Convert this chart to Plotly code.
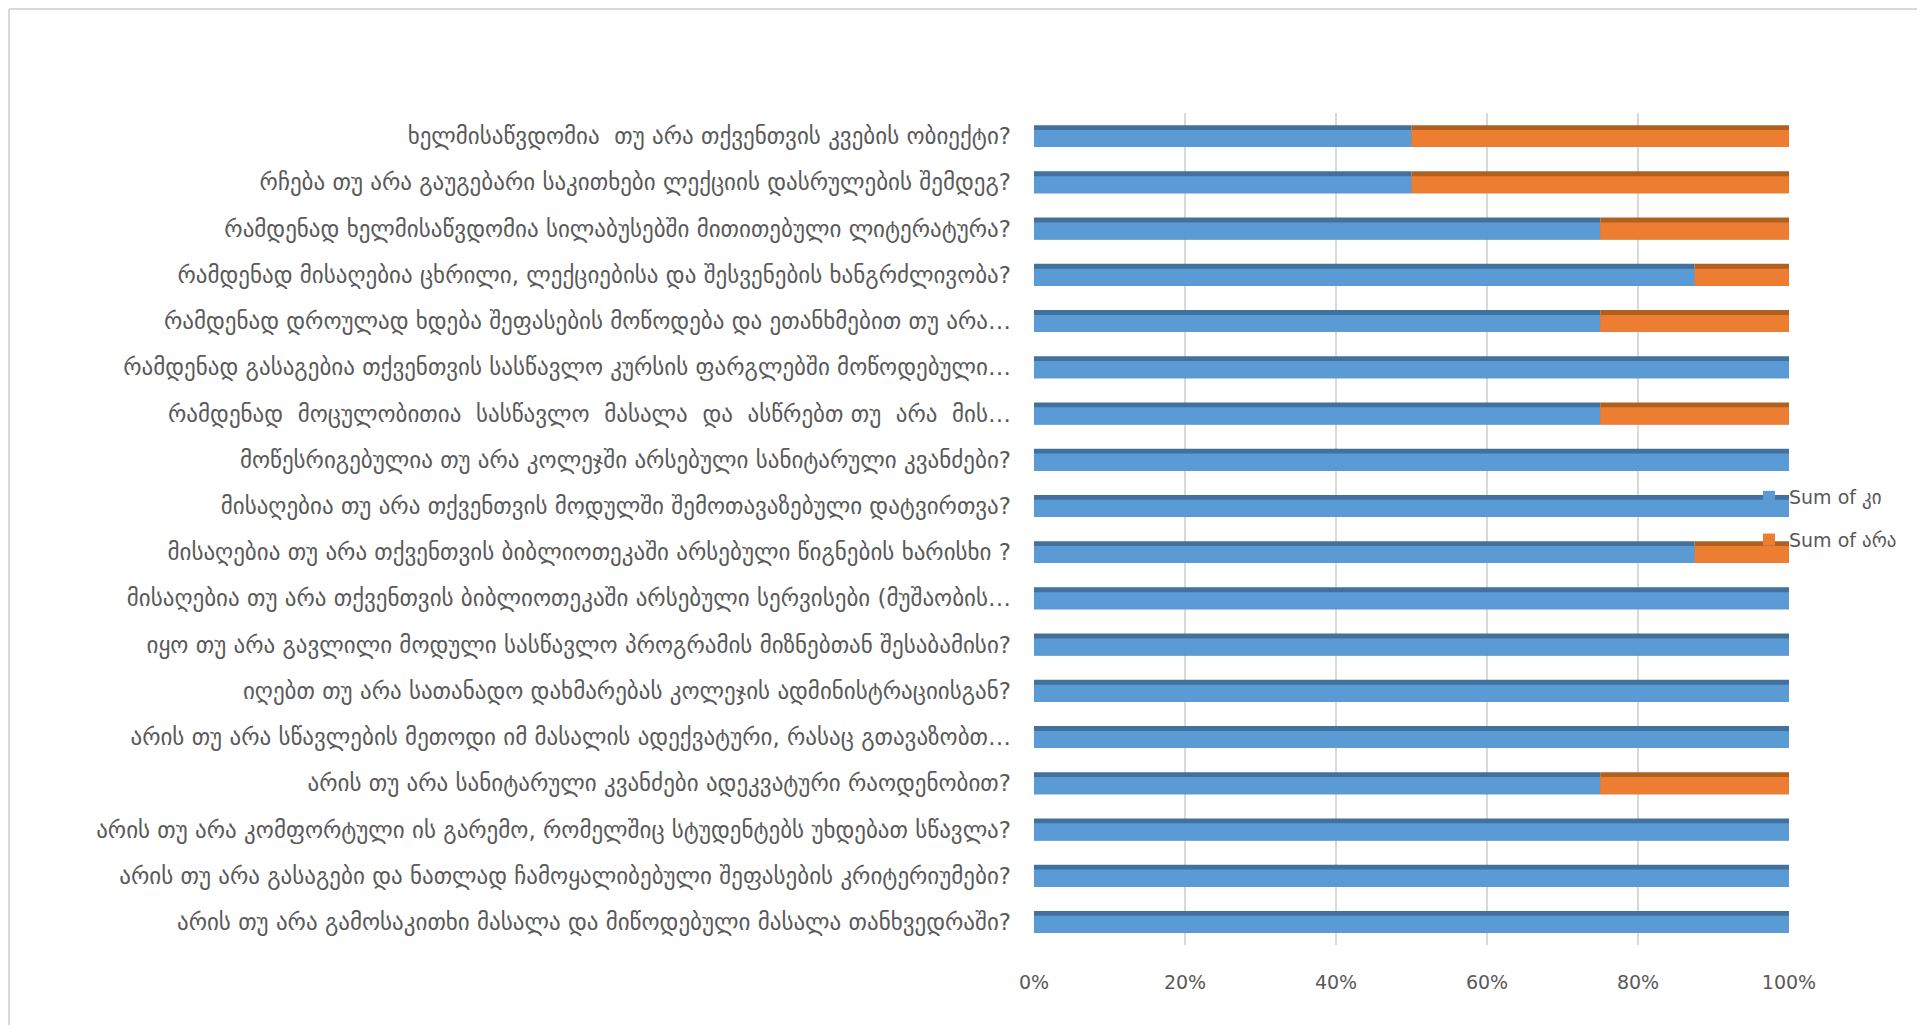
import plotly.graph_objects as go

# Categories, bottom to top
categories = [
    "არის თუ არა გამოსაკითხი მასალა და მიწოდებული მასალა თანხვედრაში?",
    "არის თუ არა გასაგები და ნათლად ჩამოყალიბებული შეფასების კრიტერიუმები?",
    "არის თუ არა კომფორტული ის გარემო, რომელშიც სტუდენტებს უხდებათ სწავლა?",
    "არის თუ არა სანიტარული კვანძები ადეკვატური რაოდენობით?",
    "არის თუ არა სწავლების მეთოდი იმ მასალის ადექვატური, რასაც გთავაზობთ…",
    "იღებთ თუ არა სათანადო დახმარებას კოლეჯის ადმინისტრაციისგან?",
    "იყო თუ არა გავლილი მოდული სასწავლო პროგრამის მიზნებთან შესაბამისი?",
    "მისაღებია თუ არა თქვენთვის ბიბლიოთეკაში არსებული სერვისები (მუშაობის…",
    "მისაღებია თუ არა თქვენთვის ბიბლიოთეკაში არსებული წიგნების ხარისხი ?",
    "მისაღებია თუ არა თქვენთვის მოდულში შემოთავაზებული დატვირთვა?",
    "მოწესრიგებულია თუ არა კოლეჯში არსებული სანიტარული კვანძები?",
    "რამდენად  მოცულობითია  სასწავლო  მასალა  და  ასწრებთ თუ  არა  მის…",
    "რამდენად გასაგებია თქვენთვის სასწავლო კურსის ფარგლებში მოწოდებული…",
    "რამდენად დროულად ხდება შეფასების მოწოდება და ეთანხმებით თუ არა…",
    "რამდენად მისაღებია ცხრილი, ლექციებისა და შესვენების ხანგრძლივობა?",
    "რამდენად ხელმისაწვდომია სილაბუსებში მითითებული ლიტერატურა?",
    "რჩება თუ არა გაუგებარი საკითხები ლექციის დასრულების შემდეგ?",
    "ხელმისაწვდომია  თუ არა თქვენთვის კვების ობიექტი?",
]

# Shares in percent
sum_ki = [100, 100, 100, 75, 100, 100, 100, 100, 87.5, 100, 100, 75, 100, 75, 87.5, 75, 50, 50]
sum_ara = [0, 0, 0, 25, 0, 0, 0, 0, 12.5, 0, 0, 25, 0, 25, 12.5, 25, 50, 50]

series_names = ["Sum of კი", "Sum of არა"]
x_ticks = [0, 20, 40, 60, 80, 100]
x_ticklabels = ["0%", "20%", "40%", "60%", "80%", "100%"]

BLUE, BLUE_TOP = "#5B9BD5", "#41719C"
ORANGE, ORANGE_TOP = "#ED7D31", "#B0601F"
GRAY = "#595959"
FONT = "DejaVu Sans"

OFF = 8  # page body margin
W, H = 1925 - OFF, 1025 - OFF
# target page pixel positions
PL, PR, PT, PB = 1034, 1789, 113, 945
L, T = PL - OFF, PT - OFF
R, B = W - (PR - OFF), H - (PB - OFF)
pw, ph = PR - PL, PB - PT

full_w = 0.475
front_w = 0.37
off = -full_w / 2

fig = go.Figure()
# 3D-look top faces (full bar in darker colour)
fig.add_trace(go.Bar(y=categories, x=sum_ki, base=[0] * len(sum_ki), orientation="h",
                     marker=dict(color=BLUE_TOP, line=dict(width=0)),
                     width=full_w, offset=off, showlegend=False, hoverinfo="skip",
                     legendgroup="ki"))
fig.add_trace(go.Bar(y=categories, x=sum_ara, base=sum_ki, orientation="h",
                     marker=dict(color=ORANGE_TOP, line=dict(width=0)),
                     width=full_w, offset=off, showlegend=False, hoverinfo="skip",
                     legendgroup="ara"))
# Front faces
fig.add_trace(go.Bar(y=categories, x=sum_ki, base=[0] * len(sum_ki), orientation="h",
                     name=series_names[0], marker=dict(color=BLUE, line=dict(width=0)),
                     width=front_w, offset=off, legendgroup="ki"))
fig.add_trace(go.Bar(y=categories, x=sum_ara, base=sum_ki, orientation="h",
                     name=series_names[1], marker=dict(color=ORANGE, line=dict(width=0)),
                     width=front_w, offset=off, legendgroup="ara"))

def px_x(p):  # page px -> paper
    return (p - PL) / pw

def px_y(p):
    return (PB - p) / ph

fig.update_layout(
    width=W, height=H,
    margin=dict(l=L, r=R, t=T, b=B, pad=0),
    paper_bgcolor="white", plot_bgcolor="white",
    barmode="overlay",
    font=dict(family=FONT, color=GRAY, size=19),
    xaxis=dict(range=[0, 100], tickvals=x_ticks, ticktext=x_ticklabels,
               showgrid=True, gridcolor="#D9D9D9", gridwidth=1.5,
               zeroline=False, showline=False, ticks="", ticklabelstandoff=24,
               tickfont=dict(size=19, color=GRAY, family=FONT), fixedrange=True),
    yaxis=dict(type="category", categoryorder="array", categoryarray=categories,
               range=[-0.5, len(categories) - 0.5],
               showgrid=False, zeroline=False, showline=False, ticks="",
               ticklabelstandoff=22,
               tickfont=dict(size=23, color=GRAY, family=FONT), fixedrange=True),
    legend=dict(x=px_x(1749), y=px_y(478), xanchor="left", yanchor="top",
                bgcolor="rgba(0,0,0,0)", borderwidth=0, itemwidth=30,
                traceorder="grouped", tracegroupgap=15,
                font=dict(size=19, color=GRAY, family=FONT)),
    shapes=[
        dict(type="line", xref="paper", yref="paper",
             x0=px_x(OFF + 1), x1=px_x(OFF + 1), y0=px_y(OFF + 1), y1=px_y(1100),
             line=dict(color="#D9D9D9", width=2)),
        dict(type="line", xref="paper", yref="paper",
             x0=px_x(OFF + 1), x1=px_x(2000), y0=px_y(OFF + 1), y1=px_y(OFF + 1),
             line=dict(color="#D9D9D9", width=2)),
    ],
)

fig.write_html("out.html")
